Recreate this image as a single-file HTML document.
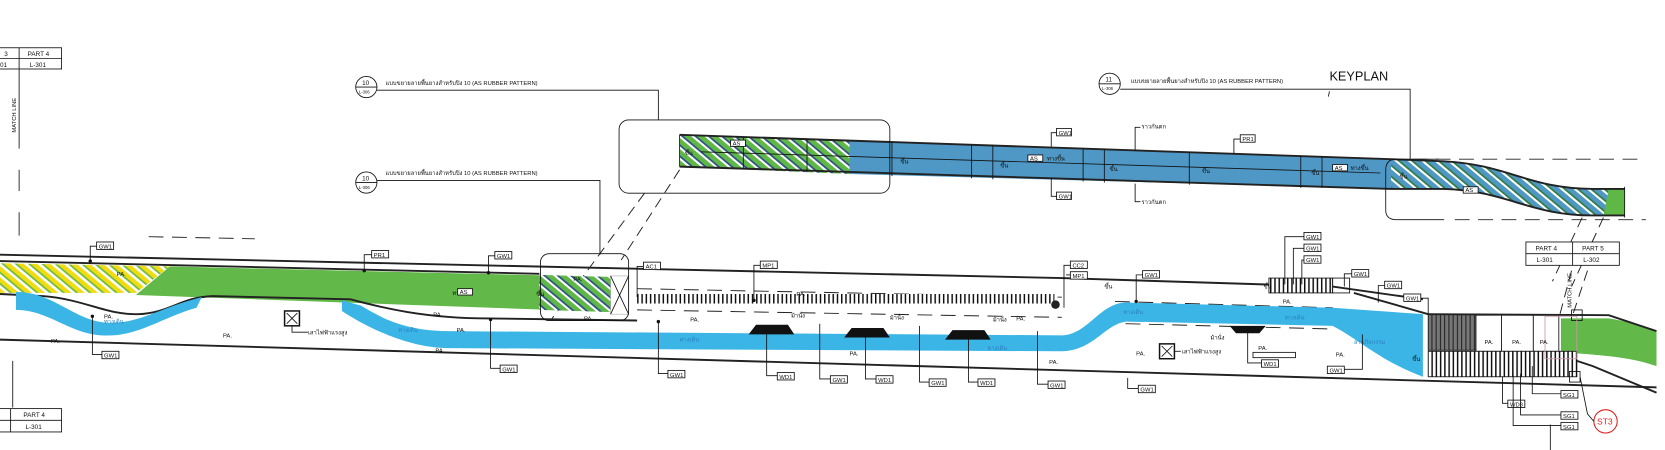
<!DOCTYPE html>
<html><head><meta charset="utf-8"><style>
html,body{margin:0;padding:0;background:#fff;width:1665px;height:450px;overflow:hidden}
svg{display:block}
text{font-family:"Liberation Sans","Noto Sans CJK SC",sans-serif;fill:#111}
.t{font-size:5.5px}
.s{font-size:6px}
.l{fill:none;stroke:#111;stroke-width:0.8}
.th{fill:none;stroke:#222;stroke-width:1.8}
.d{fill:none;stroke:#222;stroke-width:0.9;stroke-dasharray:14 8}
.bx{fill:#fff;stroke:#111;stroke-width:0.8}
</style></head><body>
<svg width="1665" height="450" viewBox="0 0 1568 424" preserveAspectRatio="none" xmlns="http://www.w3.org/2000/svg">
<defs>
<pattern id="hg" width="8" height="8" patternUnits="userSpaceOnUse" patternTransform="rotate(-50)">
<rect width="8" height="8" fill="#5fb845"/><rect width="2" height="8" fill="#fff"/><rect x="2" width="1.5" height="8" fill="#2a4a8a"/></pattern>
<pattern id="hy" width="8" height="8" patternUnits="userSpaceOnUse" patternTransform="rotate(-50)">
<rect width="8" height="8" fill="#f0dc10"/><rect width="2.5" height="8" fill="#fff"/><rect x="2.5" width="1.5" height="8" fill="#63b848"/></pattern>
<pattern id="hb" width="8" height="8" patternUnits="userSpaceOnUse" patternTransform="rotate(-50)">
<rect width="8" height="8" fill="#4f97c4"/><rect width="2" height="8" fill="#fff"/><rect x="2" width="1.5" height="8" fill="#2f7a3a"/></pattern>
<pattern id="vt" width="4" height="10" patternUnits="userSpaceOnUse"><rect width="4" height="10" fill="#fff"/><rect width="1.4" height="10" fill="#111"/></pattern>
<pattern id="vg" width="4" height="10" patternUnits="userSpaceOnUse"><rect width="4" height="10" fill="#777"/><rect width="1" height="10" fill="#222"/></pattern>
</defs>

<!-- top-left part box -->
<rect class="bx" x="-2" y="45" width="60" height="20"/>
<line class="l" x1="-2" y1="55" x2="58" y2="55"/><line class="l" x1="18" y1="45" x2="18" y2="65"/>
<text class="s" x="4" y="53">3</text><text class="s" x="26" y="53">PART 4</text>
<text class="s" x="0" y="63">01</text><text class="s" x="28" y="63">L-301</text>
<line class="l" x1="18" y1="65" x2="18" y2="140"/>
<text class="t" transform="translate(15,125) rotate(-90)">MATCH LINE</text>
<line class="l" x1="18" y1="160" x2="18" y2="180"/><line class="l" x1="18" y1="200" x2="18" y2="222"/>
<line class="l" x1="12" y1="340" x2="12" y2="384"/>
<!-- bottom-left part box -->
<rect class="bx" x="-2" y="385" width="60" height="22"/>
<line class="l" x1="-2" y1="396" x2="58" y2="396"/><line class="l" x1="10" y1="385" x2="10" y2="407"/>
<text class="s" x="22" y="393">PART 4</text><text class="s" x="24" y="404">L-301</text>

<!-- callouts -->
<circle class="bx" cx="345" cy="82" r="10"/><line class="l" x1="335" y1="82" x2="355" y2="82"/>
<text class="s" x="341" y="80">10</text><text style="font-size:4px" x="338" y="88">L-306</text>
<text class="t" x="363" y="80">แบบขยายลายพื้นยางสำหรับปิง 10 (AS RUBBER PATTERN)</text>
<polyline class="l" points="355,85 620,85 620,113"/>
<circle class="bx" cx="345" cy="172" r="10"/><line class="l" x1="335" y1="172" x2="355" y2="172"/>
<text class="s" x="341" y="170">10</text><text style="font-size:4px" x="338" y="178">L-306</text>
<text class="t" x="363" y="165">แบบขยายลายพื้นยางสำหรับปิง 10 (AS RUBBER PATTERN)</text>
<polyline class="l" points="355,170 565,170 565,240"/>
<circle class="bx" cx="1045" cy="79" r="10"/><line class="l" x1="1035" y1="79" x2="1055" y2="79"/>
<text class="s" x="1041" y="77">11</text><text style="font-size:4px" x="1038" y="85">L-306</text>
<text class="t" x="1065" y="78">แบบขยายลายพื้นยางสำหรับปิง 10 (AS RUBBER PATTERN)</text>
<polyline class="l" points="1055,84 1328,84 1328,150"/>
<text x="1252" y="76" style="font-size:12px">KEYPLAN</text>
<line class="l" x1="1252" y1="86" x2="1251" y2="91"/>

<!-- upper detail strip -->
<polygon fill="url(#hg)" points="640,127 800,133 800,164 640,157"/>
<polygon fill="#4f97c4" points="800,133 1310,150 1310,178 800,164"/>
<path fill="url(#hb)" d="M1310,150 L1360,152 C1420,155 1440,178 1500,178 L1530,178 L1530,203 L1500,203 C1440,203 1420,180 1360,178 L1310,178 Z"/>
<polygon fill="#5fb845" points="1515,178 1530,178 1530,203 1510,203"/>
<path class="th" d="M640,127 L1310,150 L1360,152 C1420,155 1440,178 1500,178 L1530,178"/>
<path class="th" d="M640,157 L1310,178 L1360,178 C1420,180 1440,203 1500,203 L1530,203"/>
<line class="l" x1="640" y1="127" x2="640" y2="157"/><line class="l" x1="1530" y1="176" x2="1530" y2="205"/>
<g class="l">
<line x1="700" y1="129" x2="700" y2="159"/><line x1="760" y1="131" x2="760" y2="162"/><line x1="840" y1="134" x2="840" y2="166"/>
<line x1="915" y1="137" x2="915" y2="168"/><line x1="935" y1="137" x2="935" y2="169"/><line x1="1020" y1="140" x2="1020" y2="171"/>
<line x1="1040" y1="141" x2="1040" y2="172"/><line x1="1120" y1="143" x2="1120" y2="174"/><line x1="1225" y1="147" x2="1225" y2="177"/>
<line x1="1245" y1="148" x2="1245" y2="177"/>
<line x1="660" y1="143" x2="1300" y2="163"/>
</g>
<g class="t">
<text x="645" y="146">ขึ้น</text><text x="848" y="154">ขึ้น</text><text x="942" y="158">ขึ้น</text><text x="1045" y="161">ขึ้น</text><text x="1132" y="163">ขึ้น</text><text x="1235" y="165">ขึ้น</text><text x="1318" y="168">ขึ้น</text>
</g>
<rect class="bx" x="688" y="132" width="14" height="6"/><text class="t" x="690" y="137">AS</text>
<rect class="bx" x="968" y="146" width="14" height="6"/><text class="t" x="970" y="151">AS</text><text class="t" x="986" y="151">ทางขึ้น</text>
<rect class="bx" x="1255" y="155" width="14" height="6"/><text class="t" x="1257" y="160">AS</text><text class="t" x="1272" y="160">ทางขึ้น</text>
<rect class="bx" x="1378" y="176" width="14" height="6"/><text class="t" x="1380" y="181">AS</text>
<!-- upper strip leaders -->
<polyline class="l" points="990,138 990,125 995,125"/><rect class="bx" x="995" y="121" width="14" height="7"/><text class="t" x="997" y="127">GW1</text>
<polyline class="l" points="990,168 990,185 995,185"/><rect class="bx" x="995" y="181" width="14" height="7"/><text class="t" x="997" y="187">GW1</text>
<polyline class="l" points="1069,142 1069,120 1074,120"/><text class="t" x="1075" y="121">ราวกันตก</text>
<polyline class="l" points="1069,173 1069,190 1074,190"/><text class="t" x="1075" y="192">ราวกันตก</text>
<polyline class="l" points="1162,145 1162,131 1168,131"/><rect class="bx" x="1168" y="127" width="14" height="7"/><text class="t" x="1170" y="133">PR1</text>
<!-- rounded boxes -->
<rect class="l" x="583" y="113" width="255" height="69" rx="9"/>
<path class="l" d="M1355,150 L1315,150 Q1305,150 1305,160 L1305,198 Q1305,207 1315,207 L1360,207"/>
<g class="d"><line x1="1330" y1="150" x2="1550" y2="150"/><line x1="1370" y1="207" x2="1550" y2="207"/></g>
<g class="d" style="stroke-dasharray:10 6">
<line x1="607" y1="182" x2="520" y2="300"/><line x1="640" y1="160" x2="585" y2="245"/>
<line x1="1490" y1="205" x2="1462" y2="265"/><line x1="1510" y1="205" x2="1480" y2="270"/>
<line x1="1480" y1="255" x2="1468" y2="300"/><line x1="1495" y1="255" x2="1480" y2="300"/>
</g>

<!-- main road -->
<!-- green/yellow band -->
<polygon fill="url(#hy)" points="0,248 160,251 128,276 0,276"/>
<polygon fill="#62b848" points="160,251 575,261 575,294 128,278"/>
<polygon fill="url(#hg)" points="508,259 575,261 575,294 508,292"/>
<rect x="575" y="260" width="17" height="36" fill="#fff" stroke="#999" stroke-width="0.5"/>
<line class="l" x1="575" y1="260" x2="592" y2="296" stroke="#999"/><line class="l" x1="592" y1="260" x2="575" y2="296" stroke="#999"/>
<!-- road edges -->
<path class="th" d="M0,240 L1000,262 L1255,270 L1340,282"/>
<path class="th" d="M0,246 L508,258"/>
<path class="th" d="M0,320 L1560,365"/>
<path class="th" d="M0,277 L40,279 C80,282 100,297 130,296 C160,295 170,280 200,279 L330,282 C360,290 400,300 460,300 L600,302"/>
<g class="d">
<line x1="600" y1="272" x2="1000" y2="280"/><line x1="600" y1="292" x2="1000" y2="299"/>
<line x1="1050" y1="284" x2="1255" y2="290"/><line x1="1060" y1="305" x2="1255" y2="310"/>
<line x1="140" y1="223" x2="240" y2="225"/>
</g>
<!-- barrier row -->
<rect x="598" y="277" width="395" height="9" fill="url(#vt)"/>
<circle cx="994" cy="287" r="4" fill="#222"/>
<!-- cyan walkway -->
<path fill="#3bb5e6" d="M15,275 C50,275 70,302 100,304 C130,306 150,290 190,280 L185,290 C150,300 130,318 95,316 C65,314 45,292 15,292 Z"/>
<path fill="#3bb5e6" d="M322,283 L340,288 C360,300 380,311 420,312 L1000,316 C1025,315 1035,286 1060,285 L1255,290 L1340,296 L1340,355 C1300,340 1280,320 1255,307 L1060,303 C1040,306 1030,330 1000,331 L420,328 C380,327 340,305 322,293 Z"/>
<!-- black WD trapezoids -->
<g fill="#111">
<polygon points="705,315 712,306 742,306 748,315"/><polygon points="795,318 802,309 832,309 838,318"/>
<polygon points="890,320 897,311 927,311 933,320"/><polygon points="1158,307 1192,307 1186,314 1164,314"/>
</g>
<!-- station / right end -->
<rect x="1195" y="262" width="60" height="14" fill="url(#vt)" stroke="#111" stroke-width="0.8"/>
<rect class="l" x="1255" y="262" width="16" height="14"/>
<path class="th" d="M1275,276 L1345,296"/>
<rect x="1345" y="296" width="45" height="34" fill="url(#vg)" stroke="#111" stroke-width="0.8"/>
<rect class="bx" x="1390" y="297" width="24" height="34"/><rect class="bx" x="1414" y="297" width="30" height="34"/><rect class="bx" x="1444" y="297" width="24" height="34"/>
<path fill="#62b848" d="M1470,300 L1515,300 C1535,303 1550,308 1560,312 L1560,345 C1540,338 1520,335 1470,332 Z"/>
<rect x="1345" y="331" width="140" height="24" fill="url(#vt)" stroke="#111" stroke-width="0.8"/>
<path class="th" d="M1345,296 L1515,297 L1560,312"/><path class="th" d="M1485,340 L1500,345 L1560,370"/>
<rect class="l" x="1480" y="292" width="10" height="10"/><rect class="l" x="1478" y="350" width="10" height="10"/>
<rect fill="none" stroke="#c9a" stroke-width="0.8" x="1455" y="298" width="30" height="40"/>
<rect class="bx" x="1437" y="228" width="88" height="22"/><line class="l" x1="1437" y1="239" x2="1525" y2="239"/><line class="l" x1="1481" y1="228" x2="1481" y2="250"/>
<text class="s" x="1446" y="236">PART 4</text><text class="s" x="1490" y="236">PART 5</text>
<text class="s" x="1447" y="247">L-301</text><text class="s" x="1491" y="247">L-302</text>
<text class="t" transform="translate(1480,290) rotate(-90)">MATCH LINE</text>
<circle cx="1512" cy="397" r="11" fill="none" stroke="#e02020" stroke-width="1"/>
<text x="1504" y="400" style="font-size:8px;fill:#e02020">ST3</text>
<polyline class="l" points="1488,355 1495,390 1501,397"/>
<!-- lower-left box C -->
<rect class="l" x="509" y="239" width="83" height="63" rx="8"/>
<!-- poles -->
<rect class="bx" x="268" y="293" width="14" height="14" style="stroke-width:1.4"/><line class="l" x1="270" y1="295" x2="280" y2="305"/><line class="l" x1="280" y1="295" x2="270" y2="305"/>
<polyline class="l" points="275,307 275,313 290,313"/><text class="t" x="290" y="315">เสาไฟฟ้าแรงสูง</text>
<rect class="bx" x="1092" y="324" width="14" height="14" style="stroke-width:1.4"/><line class="l" x1="1094" y1="326" x2="1104" y2="336"/><line class="l" x1="1104" y1="326" x2="1094" y2="336"/>
<line class="l" x1="1106" y1="331" x2="1112" y2="331"/><text class="t" x="1113" y="333">เสาไฟฟ้าแรงสูง</text>
<rect class="bx" x="1180" y="332" width="40" height="5"/>

<!-- text labels on road -->
<g class="t">
<text x="110" y="260">PA.</text><text x="98" y="300">PA.</text><text x="48" y="323">PA.</text><text x="210" y="318">PA.</text>
<text x="408" y="298">PA.</text><text x="430" y="313">PA.</text><text x="410" y="332">PA.</text><text x="540" y="265">PA.</text>
<text x="550" y="302">PA.</text><text x="650" y="303">PA.</text><text x="750" y="279">PA.</text><text x="800" y="335">PA.</text>
<text x="957" y="302">PA.</text><text x="988" y="343">PA.</text><text x="1070" y="335">PA.</text><text x="1208" y="286">PA.</text>
<text x="1185" y="330">PA.</text><text x="1258" y="336">PA.</text><text x="1398" y="324">PA.</text><text x="1424" y="324">PA.</text><text x="1450" y="324">PA.</text>
<text x="426" y="278">ทางขึ้น</text><text x="505" y="279">ขึ้น</text><text x="1040" y="272">ขึ้น</text><text x="1190" y="272">ขึ้น</text>
<text x="1330" y="340">ขึ้น</text>
<text x="745" y="299">ม้านั่ง</text><text x="838" y="301">ม้านั่ง</text><text x="935" y="303">ม้านั่ง</text><text x="1140" y="320">ม้านั่ง</text>
</g>
<g style="font-size:5.5px">
<text x="98" y="305" style="fill:#2a80c0">ทางเดิน</text><text x="375" y="313" style="fill:#2a80c0">ทางเดิน</text>
<text x="640" y="322" style="fill:#2a80c0">ทางเดิน</text><text x="930" y="330" style="fill:#2a80c0">ทางเดิน</text>
<text x="1058" y="296" style="fill:#2a80c0">ทางเดิน</text><text x="1210" y="301" style="fill:#2a80c0">ทางเดิน</text>
<text x="1275" y="324" style="fill:#2a80c0">ลานกิจกรรม</text>
</g>
<rect class="bx" x="431" y="272" width="14" height="6"/><text class="t" x="433" y="277">AS</text>

<!-- leader tags -->
<g>
<polyline class="l" points="85,246 85,232 91,232"/><rect class="bx" x="91" y="228" width="16" height="7"/><text class="t" x="93" y="234">GW1</text>
<polyline class="l" points="343,255 343,240 350,240"/><rect class="bx" x="350" y="236" width="16" height="7"/><text class="t" x="352" y="242">PR1</text>
<polyline class="l" points="460,257 460,241 466,241"/><rect class="bx" x="466" y="237" width="16" height="7"/><text class="t" x="468" y="243">GW1</text>
<polyline class="l" points="600,280 600,251 606,251"/><rect class="bx" x="606" y="247" width="16" height="7"/><text class="t" x="608" y="253">AC1</text>
<polyline class="l" points="710,283 710,250 716,250"/><rect class="bx" x="716" y="246" width="16" height="7"/><text class="t" x="718" y="252">MP1</text>
<polyline class="l" points="1002,290 1002,250 1008,250"/><rect class="bx" x="1008" y="246" width="16" height="7"/><text class="t" x="1010" y="252">CC2</text>
<polyline class="l" points="1004,259 1008,259"/><rect class="bx" x="1008" y="256" width="16" height="7"/><text class="t" x="1010" y="262">MP1</text>
<polyline class="l" points="1070,284 1070,259 1076,259"/><rect class="bx" x="1076" y="255" width="16" height="7"/><text class="t" x="1078" y="261">GW1</text>
<polyline class="l" points="1210,268 1210,223 1228,223"/><rect class="bx" x="1228" y="219" width="16" height="7"/><text class="t" x="1230" y="225">GW1</text>
<polyline class="l" points="1218,268 1218,234 1228,234"/><rect class="bx" x="1228" y="230" width="16" height="7"/><text class="t" x="1230" y="236">GW1</text>
<polyline class="l" points="1226,268 1226,245 1228,245"/><rect class="bx" x="1228" y="241" width="16" height="7"/><text class="t" x="1230" y="247">GW1</text>
<polyline class="l" points="1266,270 1266,258 1273,258"/><rect class="bx" x="1273" y="254" width="16" height="7"/><text class="t" x="1275" y="260">GW1</text>
<polyline class="l" points="1298,285 1298,269 1304,269"/><rect class="bx" x="1304" y="265" width="16" height="7"/><text class="t" x="1306" y="271">GW1</text>
<polyline class="l" points="1345,296 1345,281 1338,281"/><rect class="bx" x="1322" y="277" width="16" height="7"/><text class="t" x="1324" y="283">GW1</text>
<!-- bottom -->
<polyline class="l" points="87,298 87,334 96,334"/><rect class="bx" x="96" y="331" width="16" height="7"/><text class="t" x="98" y="337">GW1</text>
<polyline class="l" points="462,301 462,347 471,347"/><rect class="bx" x="471" y="344" width="16" height="7"/><text class="t" x="473" y="350">GW1</text>
<polyline class="l" points="620,303 620,352 629,352"/><rect class="bx" x="629" y="349" width="16" height="7"/><text class="t" x="631" y="355">GW1</text>
<polyline class="l" points="722,310 722,354 732,354"/><rect class="bx" x="732" y="351" width="16" height="7"/><text class="t" x="734" y="357">WD1</text>
<polyline class="l" points="772,305 772,357 782,357"/><rect class="bx" x="782" y="354" width="16" height="7"/><text class="t" x="784" y="360">GW1</text>
<polyline class="l" points="815,313 815,357 825,357"/><rect class="bx" x="825" y="354" width="16" height="7"/><text class="t" x="827" y="360">WD1</text>
<polyline class="l" points="866,307 866,360 875,360"/><rect class="bx" x="875" y="357" width="16" height="7"/><text class="t" x="877" y="363">GW1</text>
<polyline class="l" points="912,316 912,360 921,360"/><rect class="bx" x="921" y="357" width="16" height="7"/><text class="t" x="923" y="363">WD1</text>
<polyline class="l" points="977,312 977,362 987,362"/><rect class="bx" x="987" y="359" width="16" height="7"/><text class="t" x="989" y="365">GW1</text>
<polyline class="l" points="1062,356 1062,366 1072,366"/><rect class="bx" x="1072" y="363" width="16" height="7"/><text class="t" x="1074" y="369">GW1</text>
<polyline class="l" points="1175,312 1175,342 1188,342"/><rect class="bx" x="1188" y="339" width="16" height="7"/><text class="t" x="1190" y="345">WD1</text>
<polyline class="l" points="1283,315 1283,348 1266,348"/><rect class="bx" x="1250" y="345" width="16" height="7"/><text class="t" x="1252" y="351">GW1</text>
<polyline class="l" points="1415,355 1415,380 1420,380"/><rect class="bx" x="1420" y="377" width="16" height="7"/><text class="t" x="1422" y="383">WD3</text>
<polyline class="l" points="1443,345 1443,371 1470,371"/><rect class="bx" x="1470" y="368" width="16" height="7"/><text class="t" x="1472" y="374">SG1</text>
<polyline class="l" points="1432,352 1432,391 1470,391"/><rect class="bx" x="1470" y="388" width="16" height="7"/><text class="t" x="1472" y="394">SG1</text>
<polyline class="l" points="1425,352 1425,401 1470,401"/><rect class="bx" x="1470" y="398" width="16" height="7"/><text class="t" x="1472" y="404">SG1</text>
<line class="l" x1="1460" y1="400" x2="1460" y2="424"/>
</g>
<g fill="#111">
<circle cx="85" cy="246" r="1.6"/><circle cx="87" cy="298" r="1.6"/><circle cx="343" cy="255" r="1.6"/><circle cx="460" cy="257" r="1.6"/><circle cx="462" cy="301" r="1.6"/><circle cx="620" cy="303" r="1.6"/><circle cx="710" cy="283" r="1.6"/><circle cx="1070" cy="284" r="1.6"/>
</g>
</svg>
</body></html>
